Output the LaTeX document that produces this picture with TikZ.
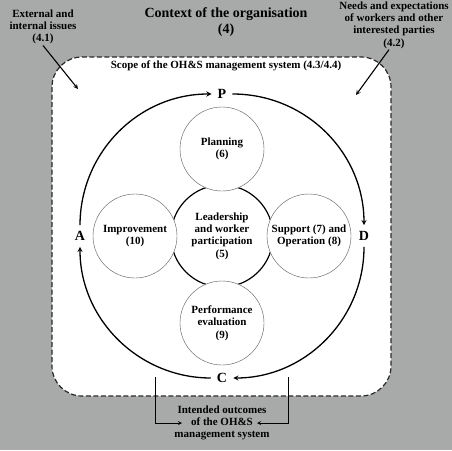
\documentclass[tikz,border=0pt]{standalone}
\usepackage{fontspec}
\setmainfont{Liberation Serif}
\usepackage{tikz}
\usetikzlibrary{arrows, positioning}
\definecolor{backgray}{RGB}{168,170,170}
\definecolor{edgegray}{RGB}{40,40,40}
\tikzset{
    x=1pt, y=1pt, % one unit is one pixel of the layout
    >=stealth, % makes the arrow heads bold
    node distance=87pt, % centre of the core to the centre of each clause
    every node/.style={font=\bfseries\fontsize{11}{12.3}\selectfont, align=center, inner sep=1pt},
    heading/.style={font=\bfseries\fontsize{14}{16}\selectfont},
    core/.style={circle, draw, line width=1.2pt, minimum size=102pt, fill=white},
    clause/.style={circle, draw=black!65, line width=0.4pt, minimum size=84pt, inner sep=0pt, fill=white},
    letter/.style={font=\bfseries\fontsize{14}{16}\selectfont, inner sep=6pt},
    pdca/.style={->, line width=1.3pt},
    feed/.style={->, line width=1.1pt},
    link/.style={->, line width=0.8pt},
    boundary/.style={draw=edgegray, dash pattern=on 5pt off 2.5pt, line width=1.2pt, fill=white},
}
\begin{document}
\begin{tikzpicture}
    \fill[backgray] (0,0) rectangle (452,-450);
    \useasboundingbox (0,0) rectangle (452,-450);

    % context of the organisation
    \node[heading] (title) at (226,-22) {Context of the organisation\\(4)};
    \node (issues) at (43,-27) {External and\\internal issues\\(4.1)};
    \node (needs) at (394,-25) {Needs and expectations\\of workers and other\\interested parties\\(4.2)};

    % scope of the management system
    \draw[boundary, rounded corners=30pt] (52,-57) rectangle (391,-396);
    \node (scopetext) at (226,-66) {Scope of the OH\&S management system (4.3/4.4)};
    \coordinate (issuesin) at (78,-89);
    \coordinate (needsin) at (356,-95);
    \draw[feed] (issues.south) -- (issuesin);
    \draw[feed] ([xshift=-5pt]needs.south) -- (needsin);

    % clauses
    \node[core] (lead) at (222,-236) {Leadership\\and worker\\participation\\(5)};
    \node[clause, above of=lead] (plan) {Planning\\(6)};
    \node[clause, right of=lead] (supp) {Support (7) and\\Operation (8)};
    \node[clause, below of=lead] (perf) {Performance\\evaluation\\(9)};
    \node[clause, left of=lead] (impr) {Improvement\\(10)};

    % plan do check act
    \node[letter] (P) at (222,-94) {P};
    \node[letter] (D) at (364,-236) {D};
    \node[letter] (C) at (222,-378) {C};
    \node[letter] (A) at (80,-236) {A};
    \path[pdca]
        (A) edge[bend left=45] (P)
        (P) edge[bend left=45] (D)
        (D) edge[bend left=45] (C)
        (C) edge[bend left=45] (A);

    % intended outcomes
    \node (outcome) at (222,-423) {Intended outcomes\\of the OH\&S\\management system};
    \coordinate (cleft) at (155,-377);
    \coordinate (cright) at (288,-377);
    \coordinate (oleft) at (182,-423);
    \coordinate (oright) at (257,-423);
    \draw[link] (cleft) |- (oleft);
    \draw[link] (cright) |- (oright);
\end{tikzpicture}
\end{document}
